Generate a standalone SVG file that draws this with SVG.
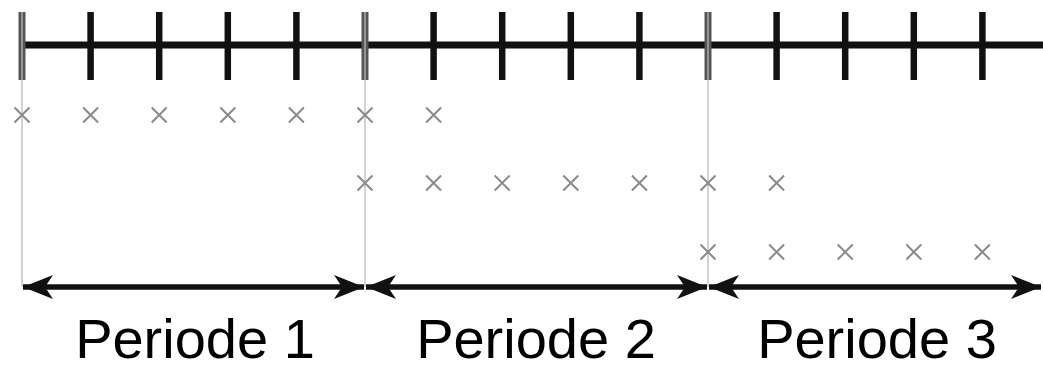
<svg xmlns="http://www.w3.org/2000/svg" width="1043" height="371" viewBox="0 0 1043 371">
<style>
.axis{stroke:#111;stroke-width:7;fill:none}
.tick{stroke:#111;stroke-width:6.5;fill:none}
.btick{stroke:#555;stroke-width:7;fill:none}
.btick-in{stroke:#aaa;stroke-width:1.5;fill:none}
.guide{stroke:#c4c4c4;stroke-width:1.5;fill:none}
.x{stroke:#8a8a8a;stroke-width:2;fill:none}
.arrow{stroke:#111;stroke-width:5.5;fill:none;marker-start:url(#ah);marker-end:url(#ah)}
.lbl{font-family:"Liberation Sans",Arial,sans-serif;font-size:56px;fill:#000;text-anchor:middle}
</style>
<defs>
<marker id="ah" markerUnits="userSpaceOnUse" viewBox="-32 -14 34 28" refX="0" refY="0" markerWidth="34" markerHeight="28" orient="auto-start-reverse">
<path d="M0,0 L-30,-12 L-22,0 L-30,12 Z" fill="#111"/>
</marker>
<path id="cx" d="M-7.5,-7.5 L7.5,7.5 M-7.5,7.5 L7.5,-7.5"/>
</defs>
<g id="connectors">
<line class="guide" x1="22" y1="80" x2="22" y2="287"/>
<line class="guide" x1="365" y1="80" x2="365" y2="287"/>
<line class="guide" x1="708" y1="80" x2="708" y2="287"/>
<line class="arrow" x1="23" y1="287" x2="364" y2="287"/>
<line class="arrow" x1="366" y1="287" x2="707" y2="287"/>
<line class="arrow" x1="709" y1="287" x2="1041" y2="287"/>
</g>
<g id="timeline">
<line class="axis" x1="22" y1="45" x2="1043" y2="45"/>
<line class="tick" x1="90.6" y1="12" x2="90.6" y2="80"/>
<line class="tick" x1="159.2" y1="12" x2="159.2" y2="80"/>
<line class="tick" x1="227.8" y1="12" x2="227.8" y2="80"/>
<line class="tick" x1="296.4" y1="12" x2="296.4" y2="80"/>
<line class="tick" x1="433.6" y1="12" x2="433.6" y2="80"/>
<line class="tick" x1="502.2" y1="12" x2="502.2" y2="80"/>
<line class="tick" x1="570.8" y1="12" x2="570.8" y2="80"/>
<line class="tick" x1="639.4" y1="12" x2="639.4" y2="80"/>
<line class="tick" x1="776.6" y1="12" x2="776.6" y2="80"/>
<line class="tick" x1="845.2" y1="12" x2="845.2" y2="80"/>
<line class="tick" x1="913.8" y1="12" x2="913.8" y2="80"/>
<line class="tick" x1="982.4" y1="12" x2="982.4" y2="80"/>
<line class="btick" x1="22" y1="12" x2="22" y2="80"/>
<line class="btick-in" x1="22" y1="12" x2="22" y2="80"/>
<line class="btick" x1="365" y1="12" x2="365" y2="80"/>
<line class="btick-in" x1="365" y1="12" x2="365" y2="80"/>
<line class="btick" x1="708" y1="12" x2="708" y2="80"/>
<line class="btick-in" x1="708" y1="12" x2="708" y2="80"/>
</g>
<g id="row1">
<use href="#cx" class="x" x="22" y="115"/>
<use href="#cx" class="x" x="90.6" y="115"/>
<use href="#cx" class="x" x="159.2" y="115"/>
<use href="#cx" class="x" x="227.8" y="115"/>
<use href="#cx" class="x" x="296.4" y="115"/>
<use href="#cx" class="x" x="365" y="115"/>
<use href="#cx" class="x" x="433.6" y="115"/>
</g>
<g id="row2">
<use href="#cx" class="x" x="365" y="183"/>
<use href="#cx" class="x" x="433.6" y="183"/>
<use href="#cx" class="x" x="502.2" y="183"/>
<use href="#cx" class="x" x="570.8" y="183"/>
<use href="#cx" class="x" x="639.4" y="183"/>
<use href="#cx" class="x" x="708" y="183"/>
<use href="#cx" class="x" x="776.6" y="183"/>
</g>
<g id="row3">
<use href="#cx" class="x" x="708" y="252"/>
<use href="#cx" class="x" x="776.6" y="252"/>
<use href="#cx" class="x" x="845.2" y="252"/>
<use href="#cx" class="x" x="913.8" y="252"/>
<use href="#cx" class="x" x="982.4" y="252"/>
</g>
<g id="periode1"><text class="lbl" x="195" y="358">Periode 1</text></g>
<g id="periode2"><text class="lbl" x="536" y="358">Periode 2</text></g>
<g id="periode3"><text class="lbl" x="877" y="358">Periode 3</text></g>
</svg>
